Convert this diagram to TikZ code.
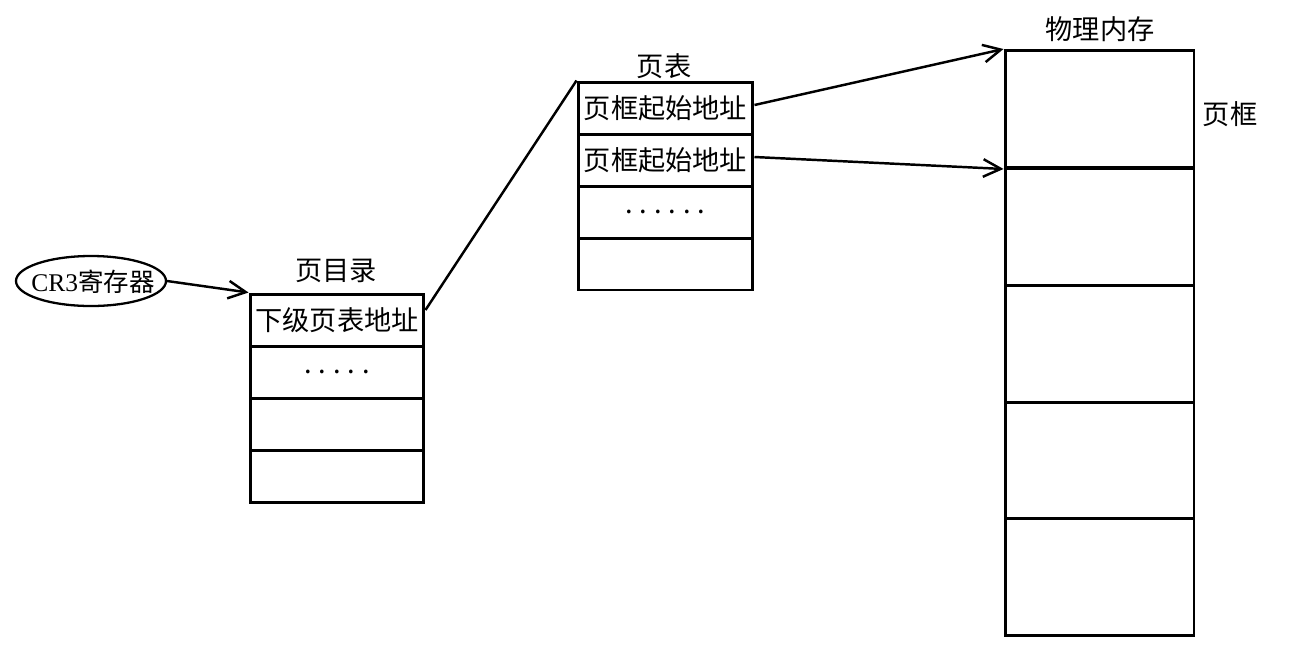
\documentclass[tikz,border=0pt]{standalone}
\usepackage{fontspec}
\setmainfont{Liberation Serif}
\newfontfamily\cjk{Noto Sans CJK SC}
\usetikzlibrary{arrows.meta,shapes.geometric,calc}
\tikzset{
  cell/.style={draw, line width=1.7pt, inner sep=0pt, font=\cjk\fontsize{15.5}{18}\selectfont},
  dircell/.style={cell, minimum width=3.48cm, minimum height=1.04cm},
  ptcell/.style={cell, minimum width=3.5cm, minimum height=1.04cm},
  memcell/.style={cell, minimum width=3.78cm, minimum height=2.34cm},
  label/.style={inner sep=0pt, font=\cjk\fontsize{15.5}{18}\selectfont},
  conn/.style={line width=1.4pt},
  arr/.style={conn, -{Straight Barb[length=10pt,width=10pt,line width=1.4pt]}},
}
\newcommand{\dotrow}[1]{\foreach \i in {1,...,#1}{\makebox[0.29cm]{.}}}
\begin{document}
\begin{tikzpicture}[x=0.02cm,y=-0.02cm]
\useasboundingbox (0,0) rectangle (1291,650);
% CR3 register
\node[inner sep=0pt, font=\fontsize{14.5}{18}\selectfont] (cr3) at (93,282) {CR3{\cjk 寄存器}};
\draw[line width=1.3pt] (91,281) ellipse [x radius=75, y radius=25];
\coordinate (cr3e) at (167,281);
% page directory
\node[dircell] (d1) at (337,320) {下级页表地址};
\node[dircell] (d2) at (337,372) {\dotrow{5}};
\node[dircell] (d3) at (337,424) {};
\node[dircell] (d4) at (337,476) {};
\node[label] (dt) at (336,271) {页目录};
% page table
\node[ptcell] (p1) at (665.5,108) {页框起始地址};
\node[ptcell] (p2) at (665.5,160) {页框起始地址};
\node[ptcell] (p3) at (665.5,212) {\dotrow{6}};
\node[ptcell] (p4) at (665.5,264) {};
\node[label] (pt) at (664,66) {页表};
% physical memory
\node[memcell] (m1) at (1099.5,109) {};
\node[memcell] (m2) at (1099.5,226.5) {};
\node[memcell] (m3) at (1099.5,343.5) {};
\node[memcell] (m4) at (1099.5,460.5) {};
\node[memcell] (m5) at (1099.5,577) {};
\node[label] (mt) at (1100,29) {物理内存};
\node[label] (pf) at (1230,114) {页框};
% connectors
\draw[arr] (cr3e) -- (d1.north west);
\draw[conn] ([yshift=0.2cm]d1.east) -- (p1.north west);
\draw[arr] ([yshift=0.06cm]p1.east) -- (m1.north west);
\draw[arr] ([yshift=0.06cm]p2.east) -- (m1.south west);
\end{tikzpicture}
\end{document}
